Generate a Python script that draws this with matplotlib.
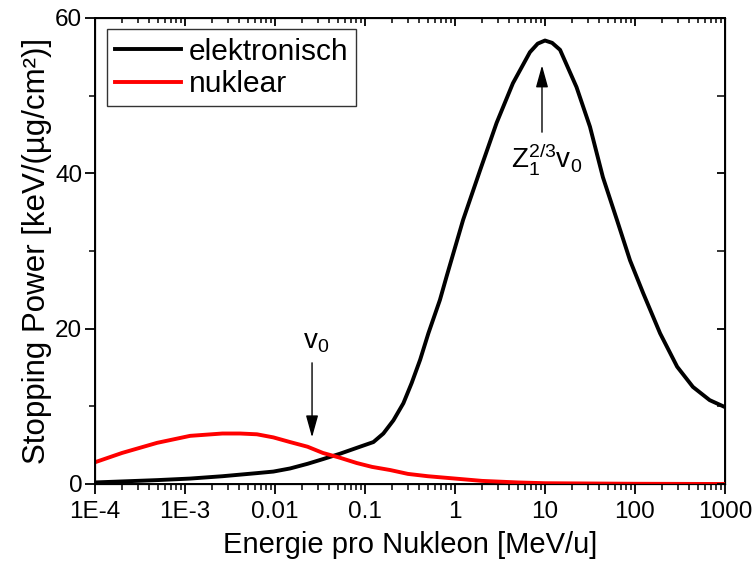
import matplotlib
matplotlib.use("Agg")
import matplotlib.pyplot as plt
from matplotlib.ticker import FixedLocator, NullFormatter, LogLocator

plt.rcParams['font.family'] = ['Liberation Sans', 'DejaVu Sans']
plt.rcParams['mathtext.fontset'] = 'custom'
plt.rcParams['mathtext.rm'] = 'Liberation Sans'
plt.rcParams['mathtext.it'] = 'Liberation Sans'

# Electronic stopping (energy in MeV/u, stopping power)
e_energy = [1e-4, 4.9e-4, 1.14e-3, 2.6e-3, 6.3e-3, 9.6e-3, 0.0147, 0.023, 0.034, 0.0528,
            0.088, 0.124, 0.16, 0.207, 0.267, 0.33, 0.41, 0.506, 0.68, 0.81, 1.23, 1.9, 2.9,
            4.4, 6.8, 8.3, 10, 12, 14.7, 22.4, 31.6, 44, 63, 88, 123, 190, 294, 440, 675, 1000]
e_power = [0.2, 0.5, 0.7, 1.0, 1.4, 1.6, 2.0, 2.6, 3.2, 3.9,
           4.8, 5.4, 6.5, 8.2, 10.4, 13.0, 16.0, 19.4, 23.7, 26.8, 34.0, 40.4, 46.5,
           51.6, 55.6, 56.7, 57.1, 56.8, 55.9, 51.1, 46.0, 39.5, 34.0, 28.8, 24.6, 19.4, 15.1, 12.5, 10.8, 9.9]

# Nuclear stopping
n_energy = [1e-4, 2.0e-4, 4.9e-4, 1.14e-3, 2.6e-3, 4.1e-3, 6.3e-3, 9.6e-3, 0.0147, 0.023,
            0.034, 0.052, 0.081, 0.12, 0.19, 0.3, 0.5, 1, 2, 5, 10, 100, 1000]
n_power = [2.8, 4.0, 5.3, 6.2, 6.5, 6.5, 6.4, 6.0, 5.4, 4.8,
           4.0, 3.4, 2.7, 2.2, 1.8, 1.3, 1.0, 0.7, 0.4, 0.2, 0.1, 0.03, 0.0]

x_ticks = [1e-4, 1e-3, 1e-2, 1e-1, 1, 10, 100, 1000]
x_ticklabels = ["1E-4", "1E-3", "0.01", "0.1", "1", "10", "100", "1000"]
y_ticks = [0, 20, 40, 60]
y_minor = [10, 30, 50]

fig = plt.figure(figsize=(7.55, 5.68), dpi=100)
ax = fig.add_axes([95/755, 1-484/568, (725-95)/755, (484-18)/568])

ax.plot(e_energy, e_power, color='black', lw=2.8, label='elektronisch', zorder=3,
        solid_joinstyle='round')
ax.plot(n_energy, n_power, color='red', lw=2.8, label='nuklear', zorder=3,
        solid_joinstyle='round')

ax.set_xscale('log')
ax.set_xlim(1e-4, 1000)
ax.set_ylim(0, 60)
ax.set_xticks(x_ticks)
ax.set_xticklabels(x_ticklabels)
ax.xaxis.set_minor_locator(LogLocator(base=10, subs=range(2, 10), numticks=100))
ax.xaxis.set_minor_formatter(NullFormatter())
ax.set_yticks(y_ticks)
ax.yaxis.set_minor_locator(FixedLocator(y_minor))

for s in ax.spines.values():
    s.set_linewidth(1.4)
ax.tick_params(which='major', direction='out', length=7.2, width=1.3, labelsize=17.5,
               top=False, right=False)
ax.tick_params(which='minor', direction='out', length=4, width=1.1, top=False, right=False)
ax.tick_params(axis='x', which='major', pad=5)
ax.tick_params(axis='y', which='major', pad=2)

ax.set_xlabel("Energie pro Nukleon [MeV/u]", fontsize=21, labelpad=6)
ax.set_ylabel("Stopping Power [keV/(µg/cm²)]", fontsize=22.5, labelpad=2)

# mirrored axes with inward ticks
axt = ax.twiny()
axt.set_xscale('log')
axt.set_xlim(ax.get_xlim())
axt.set_xticks(x_ticks)
axt.xaxis.set_minor_locator(LogLocator(base=10, subs=range(2, 10), numticks=100))
axt.xaxis.set_major_formatter(NullFormatter())
axt.xaxis.set_minor_formatter(NullFormatter())
axt.tick_params(which='major', direction='in', length=6, width=1.3)
axt.tick_params(which='minor', direction='in', length=3.6, width=1.1)

axr = ax.twinx()
axr.set_ylim(ax.get_ylim())
axr.set_yticks(y_ticks)
axr.yaxis.set_minor_locator(FixedLocator(y_minor))
axr.yaxis.set_major_formatter(NullFormatter())
axr.tick_params(which='major', direction='in', length=6, width=1.3)
axr.tick_params(which='minor', direction='in', length=6, width=1.1)

leg = ax.legend(loc='upper left', bbox_to_anchor=(0.019, 0.976), fontsize=21.5,
                frameon=True, fancybox=False, handlelength=2.2, handletextpad=0.25,
                borderpad=0.28, labelspacing=0.15, borderaxespad=0)
leg.get_frame().set_edgecolor('black')
leg.get_frame().set_linewidth(1.0)
for line in leg.get_lines():
    line.set_linewidth(2.8)

arrow_style = '-|>,head_length=0.9,head_width=0.25'
# annotations
ax.annotate("", xy=(0.0258, 6.0), xytext=(0.0258, 15.6),
            arrowprops=dict(arrowstyle=arrow_style, color='black', lw=1.0, mutation_scale=15,
                            shrinkA=0, shrinkB=0))
ax.text(0.0286, 17.5, r"$\mathregular{v_0}$", fontsize=20, ha='center', va='baseline')

ax.annotate("", xy=(9.26, 53.9), xytext=(9.26, 45.3),
            arrowprops=dict(arrowstyle=arrow_style, color='black', lw=1.0, mutation_scale=15,
                            shrinkA=0, shrinkB=0))
ax.text(10.3, 40.8, r"$\mathregular{Z_1^{2/3}v_0}$", fontsize=20, ha='center', va='baseline')

fig.savefig("out.png", dpi=100)
